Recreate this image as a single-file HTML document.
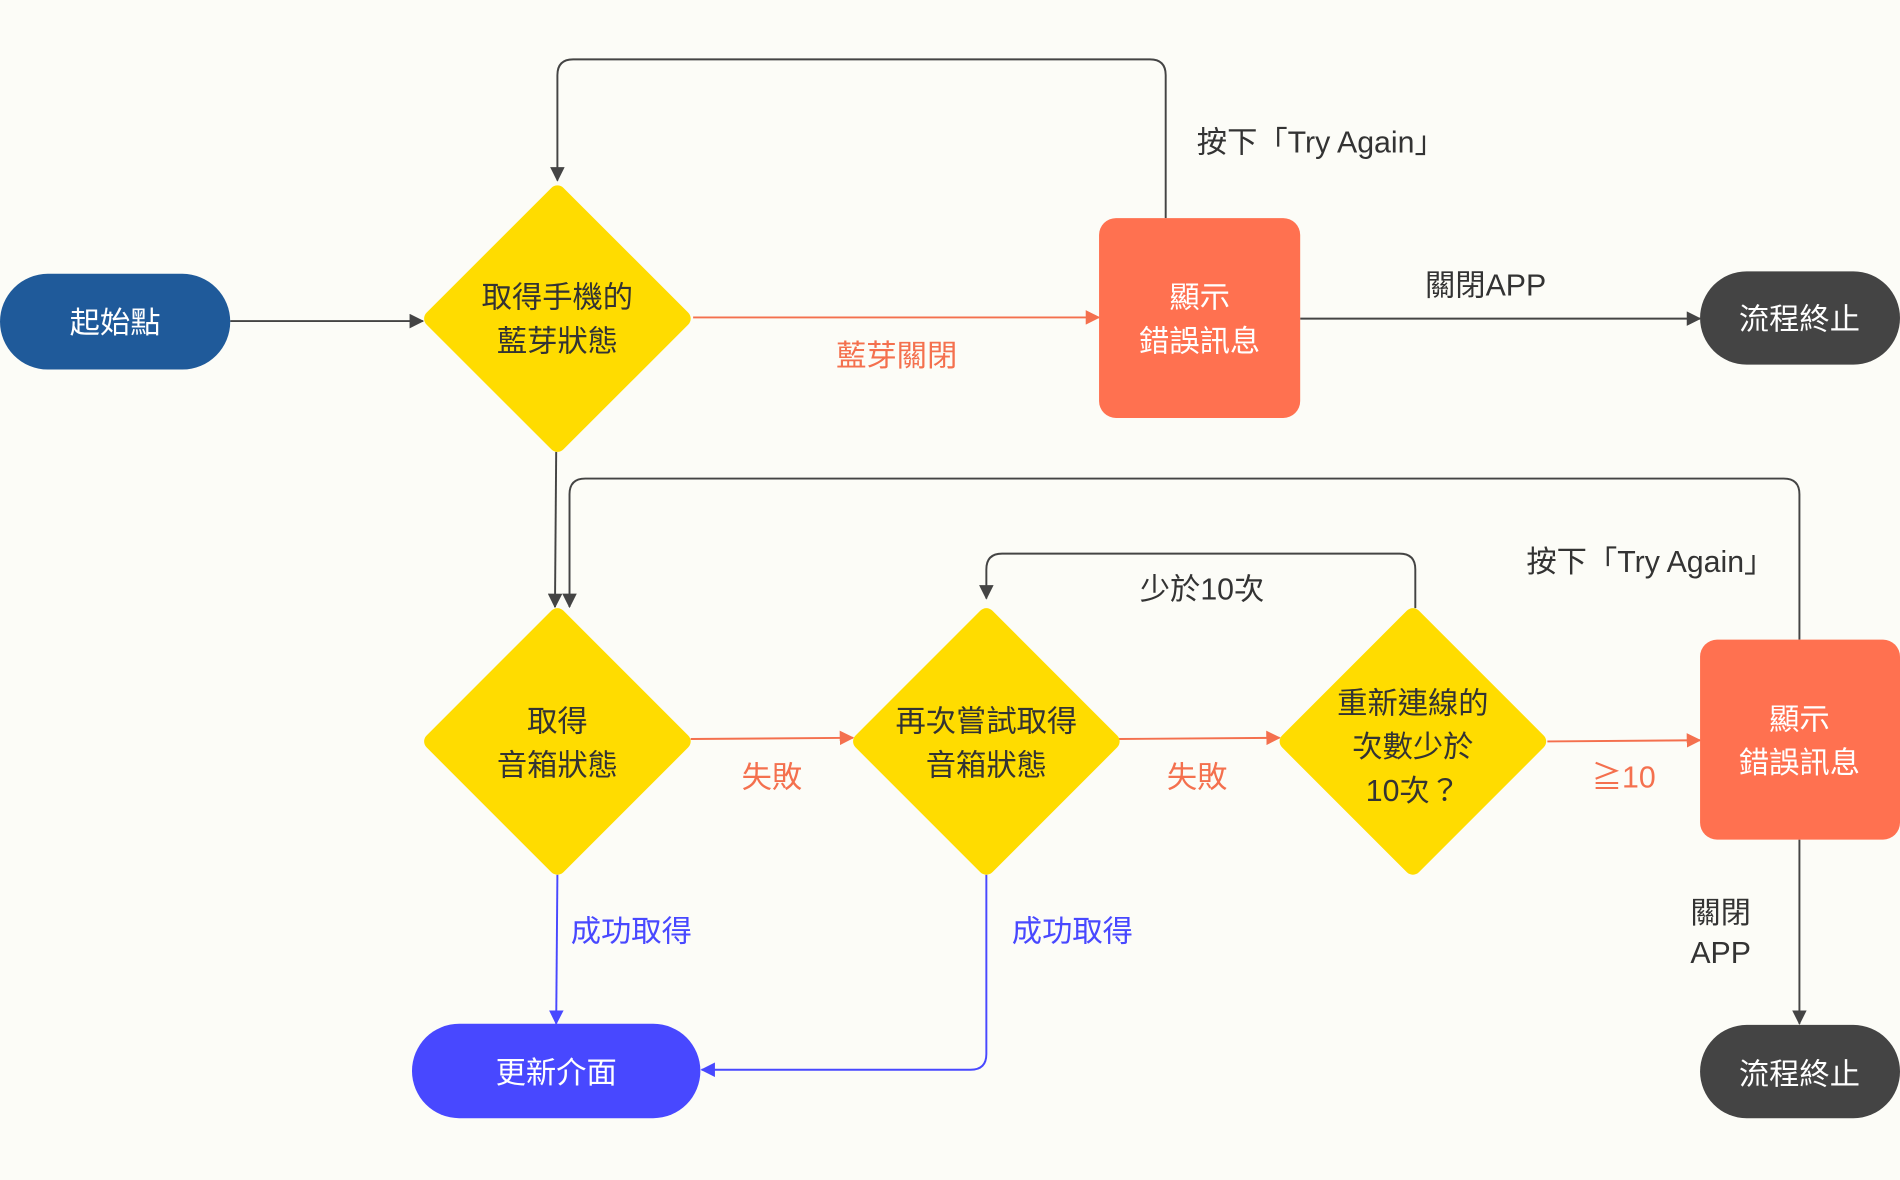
<!DOCTYPE html>
<html><head><meta charset="utf-8">
<style>
html,body{margin:0;padding:0;background:#fcfcf7;}
svg{display:block;}
text{font-family:"Liberation Sans","Noto Sans CJK TC",sans-serif;}
</style></head>
<body>
<svg width="1900" height="1180" viewBox="0 0 1568 974" preserveAspectRatio="none" xmlns="http://www.w3.org/2000/svg">
<defs>
<marker id="ak" markerWidth="12" markerHeight="12" refX="11" refY="6" orient="auto" markerUnits="userSpaceOnUse"><path d="M0,0 L12,6 L0,12 z" fill="#444"/></marker>
<marker id="ar" markerWidth="12" markerHeight="12" refX="11" refY="6" orient="auto" markerUnits="userSpaceOnUse"><path d="M0,0 L12,6 L0,12 z" fill="#f4704e"/></marker>
<marker id="ab" markerWidth="12" markerHeight="12" refX="11" refY="6" orient="auto" markerUnits="userSpaceOnUse"><path d="M0,0 L12,6 L0,12 z" fill="#4848ff"/></marker>
</defs>
<rect width="1568" height="974" fill="#fcfcf7"/>

<g fill="none" stroke-width="1.6">
<path d="M190,265 L349,265" stroke="#444" marker-end="url(#ak)"/>
<path d="M572,262 L907,262" stroke="#f4704e" marker-end="url(#ar)"/>
<path d="M962,180 L962,62 Q962,49 949,49 L473,49 Q460,49 460,62 L460,149" stroke="#444" marker-end="url(#ak)"/>
<path d="M1073,263 L1403,263" stroke="#444" marker-end="url(#ak)"/>
<path d="M459,373 L458,501" stroke="#444" marker-end="url(#ak)"/>
<path d="M1485,528 L1485,408 Q1485,395 1472,395 L483,395 Q470,395 470,408 L470,501" stroke="#444" marker-end="url(#ak)"/>
<path d="M570,610 L704,609" stroke="#f4704e" marker-end="url(#ar)"/>
<path d="M922,610 L1056,609" stroke="#f4704e" marker-end="url(#ar)"/>
<path d="M1277,612 L1403,611" stroke="#f4704e" marker-end="url(#ar)"/>
<path d="M1168,502 L1168,470 Q1168,457 1155,457 L827,457 Q814,457 814,470 L814,494" stroke="#444" marker-end="url(#ak)"/>
<path d="M460,722 L459,845" stroke="#4848ff" marker-end="url(#ab)"/>
<path d="M814,722 L814,870 Q814,883 801,883 L579,883" stroke="#4848ff" marker-end="url(#ab)"/>
<path d="M1485,693 L1485,845" stroke="#444" marker-end="url(#ak)"/>
</g>

<rect x="0" y="226" width="190" height="79" rx="39.5" fill="#1f5a9a"/>
<g fill="#ffdc00" stroke="#ffdc00" stroke-width="14" stroke-linejoin="round">
<path d="M460,160 L563,263 L460,366 L357,263 z"/>
<path d="M460,509 L563,612 L460,715 L357,612 z"/>
<path d="M814,509 L917,612 L814,715 L711,612 z"/>
<path d="M1166,509 L1269,612 L1166,715 L1063,612 z"/>
</g>
<rect x="907" y="180" width="166" height="165" rx="14" fill="#ff7150"/>
<rect x="1403" y="528" width="165" height="165" rx="14" fill="#ff7150"/>
<rect x="1403" y="224" width="165" height="77" rx="38.5" fill="#444"/>
<rect x="1403" y="846" width="165" height="77" rx="38.5" fill="#444"/>
<rect x="340" y="845" width="238" height="78" rx="39" fill="#4848ff"/>

<g font-size="25" text-anchor="middle">
<text x="95" y="275" fill="#fff">起始點</text>
<text x="460" y="254" fill="#333">取得手機的</text>
<text x="460" y="290" fill="#333">藍芽狀態</text>
<text x="990" y="254" fill="#fff">顯示</text>
<text x="990" y="290" fill="#fff">錯誤訊息</text>
<text x="1485" y="272" fill="#fff">流程終止</text>
<text x="460" y="604" fill="#333">取得</text>
<text x="460" y="640" fill="#333">音箱狀態</text>
<text x="814" y="604" fill="#333">再次嘗試取得</text>
<text x="814" y="640" fill="#333">音箱狀態</text>
<text x="1166" y="589" fill="#333">重新連線的</text>
<text x="1166" y="625" fill="#333">次數少於</text>
<text x="1166" y="661" fill="#333">10次？</text>
<text x="1485" y="602" fill="#fff">顯示</text>
<text x="1485" y="638" fill="#fff">錯誤訊息</text>
<text x="1485" y="895" fill="#fff">流程終止</text>
<text x="459" y="894" fill="#fff">更新介面</text>

<text x="740" y="302" fill="#f4704e">藍芽關閉</text>
<text x="1090" y="126" fill="#333">按下「Try Again」</text>
<text x="1226" y="244" fill="#333">關閉APP</text>
<text x="637" y="650" fill="#f4704e">失敗</text>
<text x="988" y="650" fill="#f4704e">失敗</text>
<text x="1340" y="650" fill="#f4704e">≧10</text>
<text x="992" y="495" fill="#333">少於10次</text>
<text x="1362" y="472" fill="#333">按下「Try Again」</text>
<text x="521" y="777" fill="#4848ff">成功取得</text>
<text x="885" y="777" fill="#4848ff">成功取得</text>
<text x="1420" y="762" fill="#333">關閉</text>
<text x="1420" y="795" fill="#333">APP</text>
</g>
</svg>
</body></html>
